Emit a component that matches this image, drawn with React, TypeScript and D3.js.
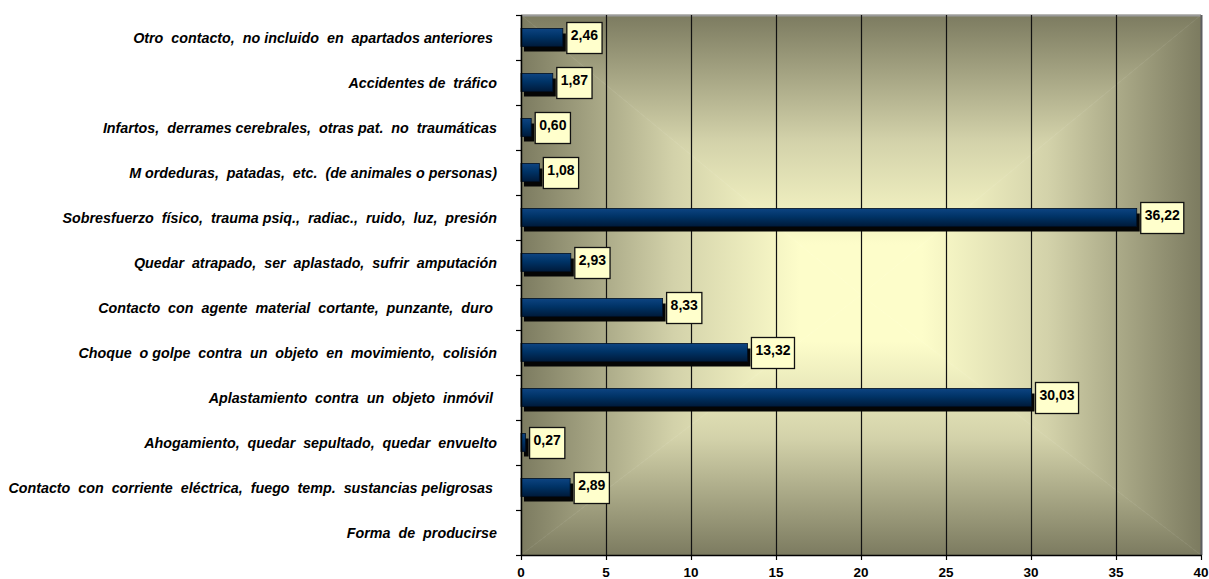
import React, { useEffect, useRef } from "react";
import * as d3 from "d3";

// Categories, top to bottom
const categories: string[] = [
  "Otro  contacto,  no incluido  en  apartados anteriores ",
  "Accidentes de  tráfico",
  "Infartos,  derrames cerebrales,  otras pat.  no  traumáticas",
  "M ordeduras,  patadas,  etc.  (de animales o personas)",
  "Sobresfuerzo  físico,  trauma psiq.,  radiac.,  ruido,  luz,  presión",
  "Quedar  atrapado,  ser  aplastado,  sufrir  amputación",
  "Contacto  con  agente  material  cortante,  punzante,  duro ",
  "Choque  o golpe  contra  un  objeto  en  movimiento,  colisión",
  "Aplastamiento  contra  un  objeto  inmóvil ",
  "Ahogamiento,  quedar  sepultado,  quedar  envuelto",
  "Contacto  con  corriente  eléctrica,  fuego  temp.  sustancias peligrosas ",
  "Forma  de  producirse",
];

// Percentages (null = header row without a bar)
const values: (number | null)[] = [2.46, 1.87, 0.6, 1.08, 36.22, 2.93, 8.33, 13.32, 30.03, 0.27, 2.89, null];

const xTicks: number[] = [0, 5, 10, 15, 20, 25, 30, 35, 40];

const W = 1209;
const H = 579;
const FONT = "Arial, 'Liberation Sans', sans-serif";

export default function App() {
  const ref = useRef<SVGSVGElement>(null);

  useEffect(() => {
    const svg = d3.select(ref.current);
    svg.selectAll("*").remove();

    const left = 521, right = 1201, top = 15, bottom = 555;
    const x = d3.scaleLinear().domain([0, 40]).range([left, right]);
    const y = d3.scaleBand<string>().domain(categories).range([top, bottom]).paddingInner(0);

    const defs = svg.append("defs");
    const cx = 861, cy = 295;
    const edge = "#7c7b60", mid = "#d3d2aa", center = "#fdfdca";
    const mkGrad = (id: string, x1: number, y1: number, x2: number, y2: number) => {
      const g = defs.append("linearGradient").attr("id", id)
        .attr("gradientUnits", "userSpaceOnUse")
        .attr("x1", x1).attr("y1", y1).attr("x2", x2).attr("y2", y2);
      g.append("stop").attr("offset", 0).attr("stop-color", center);
      g.append("stop").attr("offset", 0.18).attr("stop-color", center);
      g.append("stop").attr("offset", 0.55).attr("stop-color", mid);
      g.append("stop").attr("offset", 1).attr("stop-color", edge);
    };
    mkGrad("gTop", cx, cy, cx, top);
    mkGrad("gBot", cx, cy, cx, bottom);
    mkGrad("gLeft", cx, cy, left, cy);
    mkGrad("gRight", cx, cy, right, cy);

    const barGrad = defs.append("linearGradient").attr("id", "barGrad")
      .attr("x1", 0).attr("y1", 0).attr("x2", 0).attr("y2", 1);
    barGrad.append("stop").attr("offset", 0).attr("stop-color", "#0d4482");
    barGrad.append("stop").attr("offset", 0.45).attr("stop-color", "#003366");
    barGrad.append("stop").attr("offset", 1).attr("stop-color", "#001a3a");

    // Rectangular background shading: four triangles meeting at the centre
    const bg = svg.append("g");
    const tri = (pts: [number, number][], fill: string) =>
      bg.append("polygon").attr("points", pts.map((p) => p.join(",")).join(" "))
        .attr("fill", fill).attr("stroke", fill).attr("stroke-width", 0.6);
    tri([[left, top], [right, top], [cx, cy]], "url(#gTop)");
    tri([[left, bottom], [right, bottom], [cx, cy]], "url(#gBot)");
    tri([[left, top], [left, bottom], [cx, cy]], "url(#gLeft)");
    tri([[right, top], [right, bottom], [cx, cy]], "url(#gRight)");

    // Plot frame
    svg.append("line").attr("x1", left).attr("x2", right).attr("y1", top + 0.5).attr("y2", top + 0.5)
      .attr("stroke", "#9a9a9a").attr("stroke-width", 2);
    svg.append("line").attr("x1", right + 0.5).attr("x2", right + 0.5).attr("y1", top).attr("y2", bottom)
      .attr("stroke", "#5e5e60").attr("stroke-width", 2);

    // Vertical gridlines
    svg.append("g").selectAll("line").data(xTicks.filter((t) => t > 0 && t < 40)).join("line")
      .attr("x1", (d) => Math.round(x(d)) + 0.5).attr("x2", (d) => Math.round(x(d)) + 0.5)
      .attr("y1", top).attr("y2", bottom)
      .attr("stroke", "#111").attr("stroke-width", 1.2);

    // Bars with drop shadow
    const bh = 18;
    const rows = categories.map((c, i) => ({ c, v: values[i] })).filter((d) => d.v !== null) as { c: string; v: number }[];
    const bars = svg.append("g");
    bars.selectAll("rect.shadow").data(rows).join("rect").attr("class", "shadow")
      .attr("x", left + 3).attr("y", (d) => y(d.c)! + y.bandwidth() / 2 - bh / 2 + 5)
      .attr("width", (d) => Math.max(0, x(d.v) - left)).attr("height", bh)
      .attr("fill", "#050505");
    bars.selectAll("rect.bar").data(rows).join("rect").attr("class", "bar")
      .attr("x", left).attr("y", (d) => y(d.c)! + y.bandwidth() / 2 - bh / 2)
      .attr("width", (d) => x(d.v) - left).attr("height", bh)
      .attr("fill", "url(#barGrad)").attr("stroke", "#001024").attr("stroke-width", 0.8);

    // Axes
    svg.append("line").attr("x1", left + 0.5).attr("x2", left + 0.5).attr("y1", top).attr("y2", bottom)
      .attr("stroke", "#000").attr("stroke-width", 1.5);
    svg.append("line").attr("x1", left).attr("x2", right + 1).attr("y1", bottom + 0.5).attr("y2", bottom + 0.5)
      .attr("stroke", "#000").attr("stroke-width", 1.5);
    const yTicks = d3.range(categories.length + 1).map((i) => top + i * y.bandwidth());
    svg.append("g").selectAll("line").data(yTicks).join("line")
      .attr("x1", left - 5).attr("x2", left).attr("y1", (d) => Math.round(d) + 0.5).attr("y2", (d) => Math.round(d) + 0.5)
      .attr("stroke", "#000").attr("stroke-width", 1.2);
    svg.append("g").selectAll("line").data(xTicks).join("line")
      .attr("x1", (d) => Math.round(x(d)) + 0.5).attr("x2", (d) => Math.round(x(d)) + 0.5)
      .attr("y1", bottom).attr("y2", bottom + 5)
      .attr("stroke", "#000").attr("stroke-width", 1.2);
    svg.append("g").selectAll("text").data(xTicks).join("text")
      .attr("x", (d) => x(d)).attr("y", bottom + 22)
      .attr("text-anchor", "middle").attr("font-family", FONT).attr("font-weight", "bold")
      .attr("font-size", 13.5).attr("fill", "#000").text((d) => String(d));

    // Category labels
    svg.append("g").selectAll("text").data(categories).join("text")
      .attr("x", 497).attr("y", (d) => y(d)! + y.bandwidth() / 2 + 5)
      .attr("text-anchor", "end").attr("font-family", FONT).attr("font-weight", "bold")
      .attr("font-style", "italic").attr("font-size", 14.3).attr("fill", "#000")
      .style("white-space", "pre").text((d) => d);

    // Value labels in boxes
    const fmt = (v: number) => v.toFixed(2).replace(".", ",");
    const lab = svg.append("g");
    rows.forEach((d) => {
      const g = lab.append("g");
      const yc = y(d.c)! + y.bandwidth() / 2;
      const bx = x(d.v) + 3.5;
      const t = g.append("text").attr("font-family", FONT).attr("font-weight", "bold")
        .attr("font-size", 14).attr("fill", "#000").text(fmt(d.v));
      const tw = (t.node() as SVGTextElement).getComputedTextLength();
      const bw = tw + 8;
      const bhh = 31;
      g.insert("rect", "text").attr("x", bx + 0.5).attr("y", Math.round(yc - bhh / 2) + 0.5)
        .attr("width", bw).attr("height", bhh)
        .attr("fill", "#ffffcc").attr("stroke", "#111").attr("stroke-width", 1.3);
      t.attr("x", bx + 4.5).attr("y", Math.round(yc - bhh / 2) + 18);
    });
  }, []);

  return (
    <svg ref={ref} width={W} height={H}
      style={{ position: "absolute", left: 0, top: 0, background: "#fff" }} />
  );
}
